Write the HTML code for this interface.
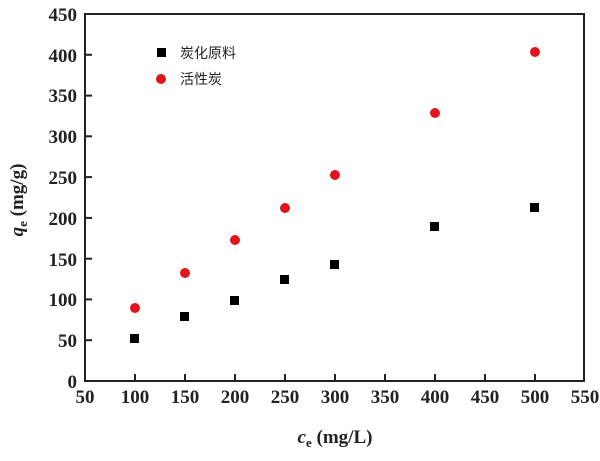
<!DOCTYPE html>
<html><head><meta charset="utf-8"><style>body{margin:0;background:#fff}</style></head><body>
<svg width="600" height="456" xmlns="http://www.w3.org/2000/svg" font-family="Liberation Serif, serif" font-weight="bold">
<rect x="85" y="14" width="499" height="367" fill="none" stroke="#222" stroke-width="2"/>
<g stroke="#222" stroke-width="2">
<line x1="135" y1="381" x2="135" y2="374"/><line x1="185" y1="381" x2="185" y2="374"/><line x1="235" y1="381" x2="235" y2="374"/><line x1="285" y1="381" x2="285" y2="374"/><line x1="335" y1="381" x2="335" y2="374"/><line x1="385" y1="381" x2="385" y2="374"/><line x1="435" y1="381" x2="435" y2="374"/><line x1="485" y1="381" x2="485" y2="374"/><line x1="535" y1="381" x2="535" y2="374"/>
<line x1="85" y1="340.2" x2="92" y2="340.2"/><line x1="85" y1="299.4" x2="92" y2="299.4"/><line x1="85" y1="258.7" x2="92" y2="258.7"/><line x1="85" y1="217.9" x2="92" y2="217.9"/><line x1="85" y1="177.1" x2="92" y2="177.1"/><line x1="85" y1="136.3" x2="92" y2="136.3"/><line x1="85" y1="95.6" x2="92" y2="95.6"/><line x1="85" y1="54.8" x2="92" y2="54.8"/>
</g>
<g font-size="19" text-anchor="middle" fill="#222">
<text x="85" y="403">50</text><text x="135" y="403">100</text><text x="185" y="403">150</text><text x="235" y="403">200</text><text x="285" y="403">250</text><text x="335" y="403">300</text><text x="385" y="403">350</text><text x="435" y="403">400</text><text x="485" y="403">450</text><text x="535" y="403">500</text><text x="585" y="403">550</text>
</g>
<g font-size="19" text-anchor="end" fill="#222">
<text x="77" y="388">0</text><text x="77" y="347">50</text><text x="77" y="306">100</text><text x="77" y="266">150</text><text x="77" y="225">200</text><text x="77" y="184">250</text><text x="77" y="143">300</text><text x="77" y="102">350</text><text x="77" y="62">400</text><text x="77" y="21">450</text>
</g>
<text x="335" y="443" font-size="19" text-anchor="middle" fill="#222"><tspan font-style="italic">c</tspan><tspan font-size="13" dy="4">e</tspan><tspan dy="-4"> (mg/L)</tspan></text>
<text transform="translate(23,200) rotate(-90)" font-size="19" text-anchor="middle" fill="#222"><tspan font-style="italic">q</tspan><tspan font-size="13" dy="4">e</tspan><tspan dy="-4"> (mg/g)</tspan></text>
<g fill="#000">
<rect x="130" y="334" width="9" height="9"/><rect x="180" y="312" width="9" height="9"/><rect x="230" y="296" width="9" height="9"/><rect x="280" y="275" width="9" height="9"/><rect x="330" y="260" width="9" height="9"/><rect x="430" y="222" width="9" height="9"/><rect x="530" y="203" width="9" height="9"/>
<rect x="157" y="48" width="9" height="9"/>
</g>
<g fill="#e0141c">
<circle cx="135" cy="308" r="5"/><circle cx="185" cy="273" r="5"/><circle cx="235" cy="240" r="5"/><circle cx="285" cy="208" r="5"/><circle cx="335" cy="175" r="5"/><circle cx="435" cy="113" r="5"/><circle cx="535" cy="52" r="5"/>
<circle cx="161" cy="79" r="5"/>
</g>
<g font-family="Liberation Sans, Noto Sans CJK SC, sans-serif" font-weight="normal" font-size="14" fill="#222">
<text x="180" y="58">炭化原料</text><text x="180" y="84">活性炭</text>
</g>
</svg>
</body></html>
